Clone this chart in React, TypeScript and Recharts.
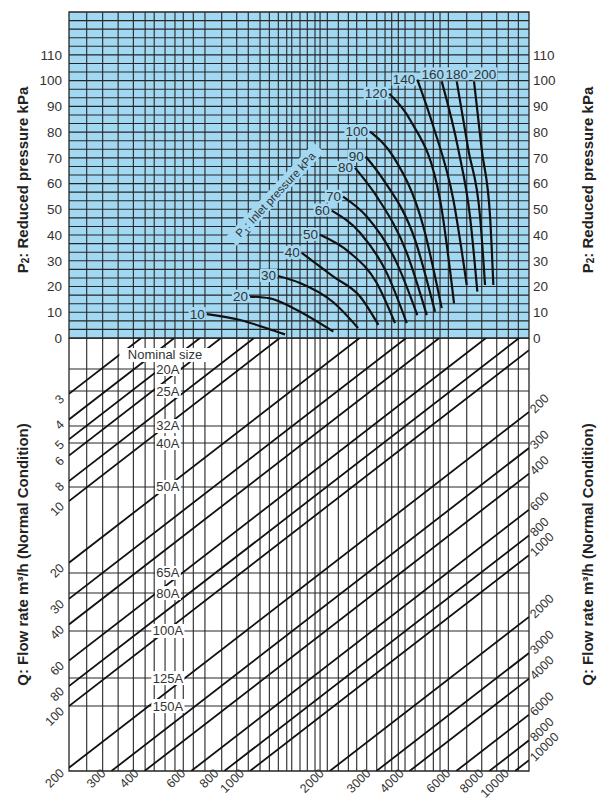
import React from 'react';
import { ComposedChart, Line, XAxis, YAxis, ReferenceLine, ReferenceArea, ReferenceDot } from 'recharts';

const FONT = '"Liberation Sans", Arial, Helvetica, sans-serif';
const BLUE = '#a3d8f2';
const GRID = '#262626';
const TEXT = '#333333';

// shared horizontal scale (value of the flow line at the bottom edge)
const K_MIN = 207.5;
const K_MAX = 11290;
// top section: reduced pressure (kPa)
const P2_MAX = 126.67;
const P2_TICKS = [0, 10, 20, 30, 40, 50, 60, 70, 80, 90, 100, 110];
// bottom section: size factor (log)
const V_MAX = 129.5;

// vertical grid lines (in the horizontal scale units)
const verticalGrid = [242, 278, 318, 363, 402, 435, 478, 521, 560, 611, 676, 782, 891, 985, 1091, 1183, 1279, 1376, 1437, 1544, 1645, 1759, 1838, 1957, 2154, 2350, 2527, 2756, 3007, 3232, 3425, 3627, 3845, 4195, 4576, 4917, 5212, 5602, 6573, 7488, 8531, 9434, 10292];

// P1 inlet pressure curves: [K, P2]
const curve10 = [[687, 9.3], [917, 7.0], [1156, 3.8], [1356, 1.4]];
const curve20 = [[1000, 16.1], [1190, 15.4], [1457, 11.6], [2063, 2.5]];
const curve30 = [[1276, 24.1], [1544, 21.4], [2057, 14.0], [2556, 3.9]];
const curve40 = [[1567, 33.1], [2057, 23.9], [2601, 16.1], [3050, 5.1]];
const curve50 = [[1838, 40.1], [2385, 33.1], [3007, 21.4], [3525, 5.8]];
const curve60 = [[2034, 49.5], [2601, 40.9], [3280, 25.3], [3903, 5.8]];
const curve70 = [[2244, 54.9], [2756, 47.2], [3578, 29.2], [4279, 8.9]];
const curve80 = [[2490, 66.1], [3007, 55.0], [3903, 33.1], [4644, 8.9]];
const curve90 = [[2733, 70.5], [3184, 61.5], [4195, 38.1], [4990, 10.2]];
const curve100 = [[2837, 80.2], [3473, 70.5], [4508, 43.3], [5289, 11.6]];
const curve120 = [[3355, 94.9], [4016, 84.8], [5212, 53.7], [5886, 13.5]];
const curve140 = [[4279, 100.4], [4917, 82.2], [5851, 53.7], [6573, 20.6]];
const curve160 = [[5289, 99.7], [6111, 73.2], [6763, 47.2], [7207, 18.0]];
const curve180 = [[6026, 99.7], [6664, 73.2], [7379, 47.2], [7706, 20.6]];
const curve200 = [[7002, 99.7], [7488, 73.2], [8050, 47.2], [8283, 20.6]];

const inletPressures = [10, 20, 30, 40, 50, 60, 70, 80, 90, 100, 120, 140, 160, 180, 200];
const inletCurves = [curve10, curve20, curve30, curve40, curve50, curve60, curve70, curve80, curve90, curve100, curve120, curve140, curve160, curve180, curve200];

// nominal sizes (horizontal lines in bottom section)
const nominalSizes = ['20A', '25A', '32A', '40A', '50A', '65A', '80A', '100A', '125A', '150A'];
const nominalV = [91.4, 71.4, 48.2, 39.8, 24.3, 9.25, 7.38, 4.82, 2.84, 2.075];

// flow rate lines (m3/h)
const flowLines = [3, 4, 5, 6, 8, 10, 20, 30, 40, 60, 80, 100, 200, 300, 400, 600, 800, 1000, 2000, 3000, 4000, 6000, 8000, 10000];
const rightLabeledFlows = [200, 300, 400, 600, 800, 1000, 2000, 3000, 4000, 6000, 8000, 10000];

// label placement styles (not data)
const topLabelOffset: Record<number, number> = { 160: -9, 180: 0, 200: 11 };

const p2Grid: number[] = [];
for (let i = 1; i < 38; i++) p2Grid.push((i * 10) / 3);

function flowSegment(q: number) {
  const start = q < K_MIN ? { k: K_MIN, v: K_MIN / q } : { k: q, v: 1 };
  const end = q * V_MAX <= K_MAX ? { k: q * V_MAX, v: V_MAX } : { k: K_MAX, v: K_MAX / q };
  return [start, end];
}

const approxW = (s: string, fs: number) => s.length * fs * 0.56;

function CurveLabel(props: any) {
  const { cx, cy, p1 } = props;
  const s = String(p1);
  const w = approxW(s, 13.5);
  if (topLabelOffset[p1] !== undefined) {
    const x = cx + topLabelOffset[p1];
    return (
      <g>
        <rect x={x - w / 2 - 1} y={cy - 14} width={w + 2} height={13} fill={BLUE} />
        <text x={x} y={cy - 2.5} textAnchor="middle" fontSize={13.5} fill={TEXT} fontFamily={FONT}>{s}</text>
      </g>
    );
  }
  return (
    <g>
      <rect x={cx - 3 - w} y={cy - 7} width={w + 2} height={13} fill={BLUE} />
      <text x={cx - 2} y={cy + 4.5} textAnchor="end" fontSize={13.5} fill={TEXT} fontFamily={FONT}>{s}</text>
    </g>
  );
}

function InletTitle(props: any) {
  const { cx, cy } = props;
  return (
    <g transform={`rotate(-47 ${cx} ${cy})`}>
      <rect x={cx - 64} y={cy - 8} width={128} height={14} fill={BLUE} />
      <text x={cx} y={cy + 3.5} textAnchor="middle" fontSize={11.5} fill={TEXT} fontFamily={FONT}>
        P<tspan fontSize={8} dy={3}>1</tspan><tspan dy={-3}>: Inlet pressure kPa</tspan>
      </text>
    </g>
  );
}

function BoxLabel(props: any) {
  const { cx, cy, text } = props;
  const w = approxW(text, 13) + 4;
  return (
    <g>
      <rect x={cx - w / 2} y={cy - 7} width={w} height={14} fill="#ffffff" />
      <text x={cx} y={cy + 4.5} textAnchor="middle" fontSize={13} fill={TEXT} fontFamily={FONT}>{text}</text>
    </g>
  );
}

function StartFlowLabel(props: any) {
  const { cx, cy, q, bottom } = props;
  const x = bottom ? cx - 5 : cx - 4;
  const y = bottom ? cy + 3 : cy + 6;
  return (
    <text x={x} y={y} transform={`rotate(-45 ${x} ${y})`} textAnchor="end" fontSize={12.5} fill={TEXT} fontFamily={FONT}>{q}</text>
  );
}

function EndFlowLabel(props: any) {
  const { cx, cy, q } = props;
  const x = cx + 6;
  const y = cy + 2;
  return (
    <text x={x} y={y} transform={`rotate(-45 ${x} ${y})`} textAnchor="start" fontSize={12.5} fill={TEXT} fontFamily={FONT}>{q}</text>
  );
}

const titleContent = (kind: 'p2' | 'q', side: 'left' | 'right', shift: number) => (props: any) => {
  const vb = props.viewBox || { x: 0, y: 0, width: 0, height: 0 };
  const cx = side === 'left' ? vb.x + 17 : vb.x + vb.width - 6;
  const cy = vb.y + vb.height / 2 + shift;
  return (
    <text x={cx} y={cy} transform={`rotate(-90 ${cx} ${cy})`} textAnchor="middle" dominantBaseline="central" fontSize={15} fontWeight={700} fill="#222" fontFamily={FONT}>
      {kind === 'p2' ? (
        <>P<tspan fontSize={10} dy={3}>2</tspan><tspan dy={-3}>: Reduced pressure kPa</tspan></>
      ) : (
        'Q: Flow rate m³/h (Normal Condition)'
      )}
    </text>
  );
};

const tickStyle = { fontSize: 13.5, fill: TEXT, fontFamily: FONT };

export default function App() {
  return (
    <div style={{ position: 'absolute', left: 0, top: 0, width: 598, height: 800, background: '#fff' }}>
      <div style={{ position: 'absolute', left: 0, top: 0 }}>
        <ComposedChart width={598} height={352} margin={{ top: 12, right: 5, bottom: 14, left: 5 }}>
          <XAxis type="number" dataKey="k" scale="log" domain={[K_MIN, K_MAX]} allowDataOverflow hide />
          <YAxis yAxisId="l" type="number" domain={[0, P2_MAX]} ticks={P2_TICKS} interval={0} allowDataOverflow width={64}
            tickLine={false} axisLine={false} tickSize={5} tickMargin={2} tick={tickStyle} label={titleContent('p2', 'left', 5)} />
          <YAxis yAxisId="r" orientation="right" type="number" domain={[0, P2_MAX]} ticks={P2_TICKS} interval={0} allowDataOverflow width={64}
            tickLine={false} axisLine={false} tickSize={2} tickMargin={2} tick={tickStyle} label={titleContent('p2', 'right', 5)} />
          <ReferenceArea yAxisId="l" x1={K_MIN} x2={K_MAX} y1={0} y2={P2_MAX} fill={BLUE} fillOpacity={1} stroke="none" ifOverflow="visible" />
          {p2Grid.map((v) => (
            <ReferenceLine key={'h' + v} yAxisId="l" y={v} stroke={GRID} strokeWidth={1.1} />
          ))}
          {verticalGrid.map((k) => (
            <ReferenceLine key={'v' + k} yAxisId="l" x={k} stroke={GRID} strokeWidth={1.1} />
          ))}
          <ReferenceArea yAxisId="l" x1={K_MIN} x2={K_MAX} y1={0} y2={P2_MAX} fill="none" stroke={GRID} strokeWidth={1.3} ifOverflow="visible" />
          {inletCurves.map((c, i) => (
            <Line key={'c' + i} yAxisId="l" data={c.map(([k, p]) => ({ k, p }))} dataKey="p" type="monotone"
              stroke="#111" strokeWidth={2.2} dot={false} activeDot={false} isAnimationActive={false} />
          ))}
          {inletCurves.map((c, i) => (
            <ReferenceDot key={'cl' + i} yAxisId="l" x={c[0][0]} y={c[0][1]} r={0} ifOverflow="visible"
              shape={(p: any) => <CurveLabel cx={p.cx} cy={p.cy} p1={inletPressures[i]} />} />
          ))}
          <ReferenceDot yAxisId="l" x={1253} y={55.6} r={0} ifOverflow="visible" shape={(p: any) => <InletTitle cx={p.cx} cy={p.cy} />} />
        </ComposedChart>
      </div>
      <div style={{ position: 'absolute', left: 0, top: 338 }}>
        <ComposedChart width={598} height={462} margin={{ top: 0, right: 5, bottom: 29, left: 5 }}>
          <XAxis type="number" dataKey="k" scale="log" domain={[K_MIN, K_MAX]} allowDataOverflow hide />
          <YAxis yAxisId="l" type="number" scale="log" domain={[1, V_MAX]} allowDataOverflow width={64}
            tick={false} tickLine={false} axisLine={false} label={titleContent('q', 'left', 0)} />
          <YAxis yAxisId="r" orientation="right" type="number" scale="log" domain={[1, V_MAX]} allowDataOverflow width={64}
            tick={false} tickLine={false} axisLine={false} label={titleContent('q', 'right', 0)} />
          {verticalGrid.map((k) => (
            <ReferenceLine key={'bv' + k} yAxisId="l" x={k} stroke={GRID} strokeWidth={1.1} />
          ))}
          {nominalV.map((v, i) => (
            <ReferenceLine key={'n' + i} yAxisId="l" y={v} stroke={GRID} strokeWidth={1.1} />
          ))}
          <ReferenceArea yAxisId="l" x1={K_MIN} x2={K_MAX} y1={1} y2={V_MAX} fill="none" stroke={GRID} strokeWidth={1.3} ifOverflow="visible" />
          {flowLines.map((q) => (
            <Line key={'q' + q} yAxisId="l" data={flowSegment(q)} dataKey="v" type="linear"
              stroke="#111" strokeWidth={1.8} dot={false} activeDot={false} isAnimationActive={false} />
          ))}
          {nominalV.map((v, i) => (
            <ReferenceDot key={'nl' + i} yAxisId="l" x={490} y={v} r={0} ifOverflow="visible"
              shape={(p: any) => <BoxLabel cx={p.cx} cy={p.cy} text={nominalSizes[i]} />} />
          ))}
          <ReferenceDot yAxisId="l" x={478} y={107} r={0} ifOverflow="visible"
            shape={(p: any) => <BoxLabel cx={p.cx} cy={p.cy} text="Nominal size" />} />
          {flowLines.map((q) => {
            const s = flowSegment(q)[0];
            return (
              <ReferenceDot key={'qs' + q} yAxisId="l" x={s.k} y={s.v} r={0} ifOverflow="visible"
                shape={(p: any) => <StartFlowLabel cx={p.cx} cy={p.cy} q={q} bottom={q >= K_MIN} />} />
            );
          })}
          {rightLabeledFlows.map((q) => {
            const e = flowSegment(q)[1];
            return (
              <ReferenceDot key={'qe' + q} yAxisId="l" x={e.k} y={e.v} r={0} ifOverflow="visible"
                shape={(p: any) => <EndFlowLabel cx={p.cx} cy={p.cy} q={q} />} />
            );
          })}
        </ComposedChart>
      </div>
    </div>
  );
}
